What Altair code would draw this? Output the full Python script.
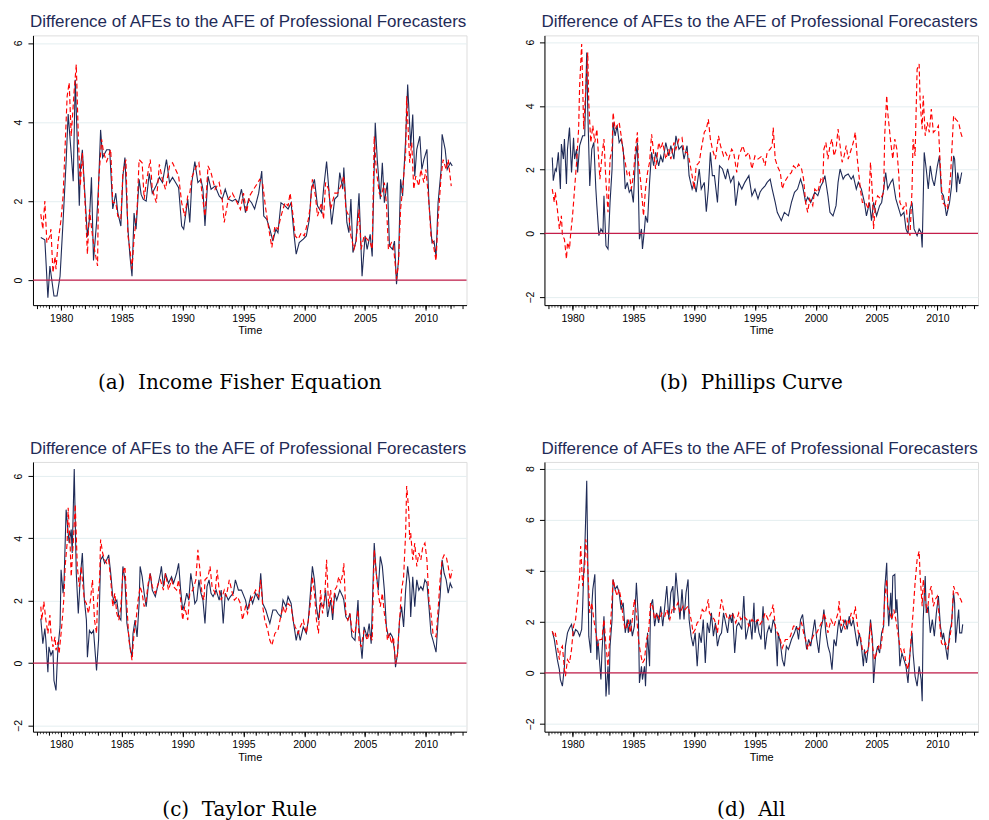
import altair as alt
import pandas as pd

NAVY = "#1f2b57"
RED = "#ff0000"
ZERO = "#c41e4a"
GRID = "#e4eef0"

TITLE = "Difference of AFEs to the AFE of Professional Forecasters"
CAPTIONS = ["(a)\u00a0 Income Fisher Equation", "(b)\u00a0 Phillips Curve",
            "(c)\u00a0 Taylor Rule", "(d)\u00a0 All"]
MAJOR_YEARS = [1980, 1985, 1990, 1995, 2000, 2005, 2010]
YEAR_TICKS = list(range(1978, 2014))
QUARTER_TICKS = [1978 + q / 4 for q in range(1, 138)]
X_DOMAIN = [1977.69, 2013.34]

# months since Jan 1978
A_NAVY_M = [4,8,11,13,17,20,23,26,29,31,34,36,38,40,42,43,45,48,50,52,54,56,59,61,63,65,69,72,75,78,80,83,85,87,90,92,94,96,98,101,103,105,108,111,114,118,121,124,128,131,134,137,140,143,145,149,151,153,156,159,162,164,166,169,172,176,180,183,186,189,193,196,199,202,206,209,212,215,219,222,224,227,230,233,236,238,241,245,248,251,254,256,259,263,266,269,271,274,277,281,283,286,289,291,294,297,299,302,303,306,308,310,312,315,318,321,324,326,329,331,334,336,339,341,343,346,348,351,353,355,357,359,361,364,366,369,371,373,375,378,380,382,385,387,390,392,394,396,399,400,403,405,408,410]
A_NAVY_V = [1.08,1.02,-0.44,0.36,-0.4,-0.4,0.1,1.5,3.0,4.2,3.2,2.5,5.07,3.5,1.88,2.8,3.3,1.96,1.1,1.55,2.6,0.5,1.45,2.4,3.8,3.1,3.3,3.3,1.8,2.2,1.7,1.37,2.63,3.1,1.29,0.6,0.1,1.7,1.29,2.55,2.17,2.05,2.0,2.7,2.2,2.4,2.6,2.47,3.05,2.47,2.6,2.47,2.34,1.37,1.29,2.05,1.46,2.47,3.0,2.47,2.55,2.3,1.37,2.63,2.3,2.38,2.13,2.05,2.3,2.05,2.0,2.05,1.96,2.3,1.71,2.05,1.96,1.8,2.2,2.76,1.62,1.54,1.29,0.99,1.29,1.2,1.96,1.88,1.8,1.96,1.12,0.66,0.95,1.04,1.12,1.54,2.3,2.55,1.88,1.71,2.3,3.0,2.05,1.41,2.05,2.13,2.72,2.3,2.85,1.46,1.2,2.05,0.7,0.99,2.2,0.1,1.12,0.78,1.16,0.6,3.98,3.05,2.05,2.97,1.96,2.47,0.87,0.78,0.99,-0.1,0.53,2.55,2.13,3.56,4.95,3.39,4.19,2.63,3.31,3.64,2.8,3.05,3.31,1.96,0.95,0.99,0.6,1.96,2.8,3.69,3.31,2.8,2.97,2.89]
A_RED_M = [4,6,8,10,13,14,16,18,19,21,24,26,28,30,32,34,37,39,41,43,45,48,50,52,55,57,60,61,64,66,69,73,75,78,80,83,85,88,90,92,94,96,99,101,104,106,108,112,114,118,121,124,127,131,134,137,140,143,146,149,151,153,157,160,163,166,169,172,176,180,183,185,189,193,196,201,204,207,210,214,217,220,223,226,229,232,235,238,241,245,248,250,253,255,258,261,264,268,270,272,275,277,281,283,285,288,290,294,297,300,303,305,308,310,313,315,318,320,323,326,329,331,333,335,338,340,343,345,347,350,352,355,357,359,361,364,365,368,370,372,374,377,379,382,384,387,389,391,394,396,399,401,404,406,409]
A_RED_V = [1.67,1.29,2.0,0.95,1.12,1.29,0.19,0.6,0.28,0.95,1.54,2.13,3.39,4.65,5.0,3.64,4.82,5.45,3.64,2.38,3.22,1.79,0.66,1.79,1.12,0.78,0.36,2.47,3.56,3.22,3.0,3.3,1.96,1.96,1.62,1.54,2.72,3.05,1.12,0.78,0.28,1.04,1.79,3.05,2.97,2.05,2.47,3.05,2.3,1.96,2.93,2.55,2.3,2.89,2.97,2.8,2.63,1.96,1.62,2.13,2.2,2.6,2.85,2.97,2.2,1.62,2.89,2.72,2.3,2.47,2.05,1.46,2.05,2.2,2.05,1.79,2.2,1.71,2.13,2.3,2.42,2.55,2.42,1.79,1.29,0.83,1.37,1.29,1.62,1.96,1.88,2.2,1.62,1.12,1.04,1.2,1.12,1.54,1.88,2.55,2.13,1.62,1.96,1.54,2.47,2.3,1.79,2.2,2.2,2.38,2.63,1.79,1.62,1.12,0.78,0.95,1.79,0.78,1.12,1.04,0.95,0.78,3.64,2.8,2.2,2.13,2.47,1.96,0.78,0.95,0.87,0.03,0.45,1.79,2.3,3.22,4.65,2.97,3.48,2.3,2.63,2.38,2.8,2.47,2.8,1.96,1.12,0.95,0.49,1.54,2.63,3.05,2.8,3.05,2.38]

B_NAVY_M = [4,5,7,8,10,12,13,15,16,18,19,21,23,25,26,28,29,31,33,34,36,38,39,41,43,45,47,48,50,52,54,55,57,59,61,63,64,66,68,70,72,74,76,78,80,82,84,86,88,90,92,93,95,96,98,100,102,104,106,109,111,113,116,119,121,124,126,129,132,134,137,139,142,144,146,149,151,154,156,158,160,162,164,167,169,172,175,177,180,183,185,188,191,194,198,201,204,207,209,211,214,216,219,221,224,226,230,233,237,240,243,246,249,251,254,256,259,263,266,269,271,273,276,278,281,284,286,288,291,293,296,299,301,304,306,309,312,314,317,319,321,324,327,329,331,333,335,338,340,343,346,348,351,353,355,357,359,361,364,366,368,369,371,373,375,377,379,381,384,386,388,390,393,396,398,400,401,403,404,406,408]
B_NAVY_V = [2.38,1.65,2.02,1.96,2.54,1.39,2.8,2.33,2.96,1.55,2.64,3.32,1.91,3.0,2.33,2.64,1.91,2.75,2.96,3.06,3.06,5.67,3.9,1.49,2.64,2.85,1.39,0.87,-0.07,0.14,0.03,1.18,-0.39,-0.49,0.97,2.02,3.48,3.06,3.38,2.85,2.96,2.64,1.39,1.6,1.29,1.39,0.97,2.33,2.85,-0.18,0.14,-0.49,0.14,0.55,0.34,1.6,2.54,2.12,2.54,2.12,2.43,2.23,2.85,2.43,2.75,2.33,3.06,2.64,2.75,2.33,2.75,1.81,1.39,1.6,1.29,2.02,1.39,1.6,0.68,1.39,2.54,1.81,1.81,0.97,2.12,2.02,1.7,2.02,1.6,1.81,0.87,1.6,1.39,1.6,1.81,1.18,1.39,1.08,1.29,1.39,1.49,1.6,1.7,1.39,0.97,0.66,0.4,0.66,0.55,0.97,1.29,1.39,1.7,1.49,0.97,1.13,0.97,1.29,1.18,1.49,1.6,1.81,1.18,0.66,0.55,0.87,1.6,2.02,1.7,1.81,1.86,1.7,1.81,1.39,1.6,1.39,0.97,0.55,0.97,0.4,0.97,0.55,0.87,0.97,1.39,1.91,1.39,1.6,1.7,1.08,0.76,0.55,0.66,0.14,-0.02,0.76,0.97,0.14,-0.07,0.14,0.03,-0.44,2.54,2.02,1.39,2.12,1.7,1.49,2.12,2.43,1.29,1.18,0.55,0.97,1.49,2.43,2.33,1.29,1.91,1.55,1.91]
B_RED_M = [4,6,7,9,11,13,14,16,18,19,21,22,24,26,28,30,31,33,34,35,37,39,40,42,44,46,48,49,51,53,55,57,59,61,63,64,66,68,70,72,74,76,78,80,82,84,86,88,89,91,93,94,96,98,100,102,104,106,109,111,113,116,119,121,124,126,129,132,134,137,139,142,144,146,149,151,154,156,158,160,162,165,168,170,173,175,178,181,183,186,188,192,195,198,201,204,207,211,214,216,219,221,222,224,226,229,231,233,237,240,242,245,247,250,252,254,256,258,261,263,266,269,271,272,274,276,278,280,282,284,286,288,290,292,294,296,299,301,303,305,308,310,313,316,318,320,321,323,325,328,331,332,334,335,338,340,342,344,346,347,350,353,355,357,359,360,362,364,366,367,369,370,372,374,376,378,380,383,385,387,389,392,394,397,400,402,405,407,409]
B_RED_V = [1.39,0.97,1.29,0.76,0.14,0.55,-0.07,-0.18,-0.8,-0.28,-0.49,-0.07,0.55,1.39,2.23,3.27,4.63,5.94,4.63,3.27,4.52,5.67,4.1,2.85,3.38,2.85,3.27,2.75,1.7,2.43,2.96,1.6,0.66,2.33,2.64,3.79,3.27,3.38,3.48,3.06,2.54,2.23,1.81,1.91,1.39,1.81,2.64,3.17,2.23,1.7,0.97,0.55,1.39,1.91,2.23,3.11,2.54,2.02,2.85,2.64,2.85,2.33,2.64,2.33,2.85,2.64,2.96,3.01,2.54,2.54,2.33,1.81,1.39,2.12,2.23,2.64,3.17,3.27,3.58,2.96,2.64,2.33,3.06,2.75,2.43,2.54,2.33,2.64,2.54,1.91,2.43,2.75,2.43,2.54,2.02,2.43,2.33,2.43,2.12,2.54,2.64,2.75,3.32,2.33,2.12,1.91,1.39,1.6,1.81,1.91,2.12,2.02,2.17,2.02,1.7,0.97,0.66,1.08,0.87,1.39,1.29,1.7,1.6,2.64,2.85,2.33,2.75,2.96,2.43,2.64,3.27,2.75,2.23,2.43,2.75,2.33,2.64,2.85,3.17,2.33,1.39,0.97,0.97,0.76,2.23,1.18,0.14,0.97,1.18,1.08,1.29,3.06,4.32,3.79,2.85,2.33,2.96,2.64,1.81,0.97,0.76,0.97,0.14,-0.07,1.39,2.96,2.43,5.15,5.31,4.1,3.27,4.32,3.06,3.48,3.17,3.9,3.17,3.27,3.38,2.02,0.97,0.87,0.76,1.81,3.69,3.58,3.48,3.17,2.96]

C_NAVY_M = [4,6,8,9,11,12,14,16,17,19,20,21,23,24,26,27,29,31,32,34,35,37,39,41,43,45,47,49,50,52,54,56,58,59,61,62,63,65,67,69,71,73,75,77,79,81,83,85,87,89,91,92,94,95,97,99,101,102,104,106,108,110,112,114,117,120,122,123,125,127,130,133,135,138,140,142,144,146,148,150,152,154,156,158,160,162,164,166,168,170,172,174,177,180,182,184,186,189,191,194,196,199,202,206,208,211,213,216,219,221,223,226,228,230,233,236,238,241,243,246,248,251,253,256,258,260,263,266,268,270,272,274,276,278,280,283,285,287,290,292,294,296,299,302,303,305,307,309,311,314,317,318,321,323,326,328,330,332,333,335,337,339,341,343,345,347,349,351,353,354,356,358,360,362,364,366,368,369,371,373,375,377,379,381,383,385,387,389,391,394,396,398,400,402,404,406,408,410]
C_NAVY_V = [1.43,0.62,1.11,0.73,-0.29,0.52,0.25,0.41,-0.56,-0.88,-0.13,0.52,1.16,2.99,2.24,2.67,4.92,4.17,3.85,4.28,3.53,6.22,2.88,1.59,2.77,3.53,2.02,1.38,0.19,1.05,0.95,1.05,0.19,-0.24,0.73,2.02,3.31,3.42,3.2,3.31,3.47,2.88,2.13,1.91,2.02,1.48,1.38,3.1,2.67,1.27,0.84,0.52,0.19,0.95,1.38,0.84,1.91,3.1,2.77,2.24,1.81,2.45,2.88,2.34,2.13,2.56,2.88,3.1,2.45,2.88,2.56,2.77,2.56,2.88,3.2,2.34,1.7,1.91,2.24,2.02,2.88,2.45,1.91,2.02,2.67,2.24,2.02,1.27,2.45,2.67,2.24,2.13,2.34,2.02,2.34,1.27,2.24,2.02,2.13,2.24,2.67,2.34,2.34,2.02,1.7,2.13,1.91,2.24,2.02,2.88,1.91,1.7,1.48,1.27,1.7,1.7,1.59,1.48,2.02,1.81,2.13,1.91,1.38,0.73,1.05,0.73,1.16,0.95,1.38,2.24,3.1,2.67,1.81,1.38,1.91,1.81,2.34,1.48,2.02,1.38,2.24,2.02,2.34,2.13,2.02,1.48,1.38,1.59,0.84,0.73,2.02,1.16,0.14,1.16,0.84,1.27,0.62,2.77,3.85,2.88,2.34,3.42,3.1,2.34,1.16,0.84,0.95,0.84,0.41,-0.13,0.3,1.38,1.81,1.16,2.34,3.1,2.56,1.48,2.77,1.81,2.67,2.34,2.45,2.34,2.67,2.56,1.81,0.95,0.73,0.35,1.38,2.13,3.31,2.88,2.67,2.24,2.56,2.4]
C_RED_M = [4,5,7,9,11,13,14,16,18,19,21,22,24,26,27,28,30,31,33,34,36,38,40,42,44,45,47,49,51,53,55,57,59,60,62,63,65,67,69,71,73,75,77,79,81,83,85,87,89,91,93,94,96,98,100,102,104,106,108,110,112,114,117,120,122,125,127,130,133,135,138,140,142,144,146,149,151,154,157,159,161,163,165,166,169,171,173,176,178,180,182,185,187,190,193,195,198,201,203,206,208,211,213,216,219,221,223,225,228,230,232,235,238,240,243,245,248,251,253,255,258,260,263,266,268,270,272,274,276,278,280,282,284,286,288,290,292,294,296,298,300,302,303,305,307,309,311,314,317,318,320,323,326,328,331,333,335,337,339,341,343,345,346,348,350,352,354,356,358,360,362,364,365,367,368,369,371,373,375,377,379,381,383,385,387,389,391,394,396,398,400,402,404,406,408,410]
C_RED_V = [1.81,1.38,1.97,1.38,0.95,1.54,0.95,0.52,0.84,0.41,0.68,0.3,0.95,1.7,2.24,3.1,3.85,4.98,3.74,2.77,3.85,5.09,3.1,2.45,3.1,2.67,2.02,1.91,1.59,2.02,2.67,1.38,0.95,2.02,2.67,3.96,3.53,3.31,3.2,3.31,2.67,1.81,2.24,1.59,1.38,1.81,2.88,3.1,1.81,0.73,0.3,0.09,0.95,1.38,2.02,2.45,2.24,1.81,2.02,2.56,2.88,2.45,2.24,2.56,2.67,2.34,2.88,2.34,2.67,2.45,2.34,2.67,2.02,1.38,1.81,1.38,2.24,2.34,2.67,3.63,2.99,2.24,2.02,2.67,2.77,3.1,2.45,2.24,2.99,2.34,2.02,2.34,2.13,2.67,2.24,2.02,2.13,1.91,1.38,1.81,1.59,2.02,2.13,2.34,2.13,2.67,1.81,1.38,1.05,0.73,0.57,0.95,1.05,1.38,1.81,1.59,1.91,1.81,1.38,1.16,0.95,1.16,1.38,0.95,1.38,1.91,2.77,2.24,1.38,0.95,2.34,1.59,2.02,3.31,1.81,2.34,1.59,2.34,2.45,2.77,2.56,2.88,3.2,1.59,1.38,1.59,1.05,0.95,1.7,0.73,0.52,1.05,0.73,0.95,0.73,3.63,2.88,2.24,1.81,2.24,1.59,1.16,0.73,0.95,0.62,0.84,-0.02,0.3,1.38,2.34,2.77,4.17,5.68,4.92,3.96,4.17,3.31,3.85,3.1,3.53,3.31,3.74,3.85,3.31,2.02,1.59,0.95,0.84,1.7,2.67,3.31,3.47,3.42,3.1,2.67,2.99]

D_NAVY_M = [4,6,7,9,11,12,14,16,17,19,21,23,25,27,29,31,33,34,35,36,38,39,40,42,43,44,46,47,48,49,51,52,53,55,56,57,59,60,61,63,64,66,68,70,72,74,76,78,79,81,83,85,87,89,90,92,93,95,96,98,100,101,103,105,107,109,111,113,115,117,119,121,123,124,126,128,130,132,134,136,138,139,141,143,145,147,149,151,153,155,157,159,161,163,165,167,169,171,173,175,177,179,181,182,184,186,188,191,193,195,197,199,201,203,204,206,208,210,212,214,216,218,220,222,224,226,227,229,231,233,235,237,240,243,245,247,249,251,253,255,257,259,261,263,265,267,269,271,272,274,276,278,280,282,284,286,287,289,291,293,295,297,299,301,303,305,307,309,311,312,314,316,318,320,321,323,325,327,329,331,332,334,335,336,338,339,340,342,343,344,346,347,349,351,353,355,357,359,360,362,364,366,368,369,370,372,373,375,377,379,381,383,385,387,389,390,392,394,396,398,400,401,402,404,405,406,408,409]
D_NAVY_V = [1.63,1.31,1.05,0.52,0.13,-0.26,-0.52,0.26,1.05,1.57,1.76,1.9,1.44,1.7,1.63,1.44,1.7,2.61,3.92,4.71,7.52,4.44,1.44,0.78,2.61,3.27,3.86,2.09,0.52,1.31,0.26,-0.26,0.78,2.22,0.78,-0.92,0.26,-0.85,1.05,2.09,3.66,3.27,3.4,3.14,2.48,2.75,1.57,2.09,1.57,2.09,1.44,1.83,3.53,2.09,-0.39,0.26,-0.26,0.26,-0.52,1.57,0.26,2.61,2.88,1.83,2.35,1.96,2.61,1.83,2.61,3.4,2.09,3.14,3.4,2.35,3.92,3.01,2.09,3.27,2.09,3.14,3.66,2.09,1.44,1.05,1.57,0.26,1.57,1.18,2.09,0.39,1.96,1.57,2.35,1.44,1.96,1.05,1.44,1.57,2.35,1.96,1.57,2.29,1.96,2.35,0.78,1.83,1.96,1.7,3.01,1.31,1.7,2.09,1.31,2.75,1.57,2.09,1.57,1.31,2.61,0.92,1.57,1.83,1.57,2.09,1.83,0.26,1.57,1.18,0.52,0.26,1.05,0.92,1.31,1.57,1.83,1.31,2.09,2.29,1.57,0.92,1.31,1.05,1.57,2.09,1.31,0.78,1.7,2.09,2.48,1.57,1.05,0.78,0.13,1.31,1.05,1.83,2.09,1.57,1.83,2.09,1.7,2.22,1.83,2.09,1.57,1.05,1.57,1.05,0.26,0.92,0.39,1.05,2.09,1.31,-0.39,0.65,1.05,0.78,1.57,1.83,3.27,4.31,2.61,1.83,3.14,2.09,3.79,3.86,2.35,2.88,1.31,0.26,0.78,0.52,0.26,-0.39,0.78,1.57,0.78,-0.13,-0.52,0.26,-0.26,-1.11,2.09,3.79,2.35,2.61,1.57,2.09,1.44,2.35,3.01,1.83,1.31,1.57,1.05,0.52,1.57,1.96,3.14,2.75,1.18,2.09,2.48,1.57,1.57,1.9]
D_RED_M = [4,6,7,9,11,12,14,16,17,19,21,23,25,27,29,31,32,33,34,36,37,38,40,41,43,45,47,49,51,53,55,57,59,61,63,64,66,68,70,72,74,76,78,79,81,83,85,87,89,91,93,95,97,99,101,103,105,107,110,112,115,117,120,123,125,128,130,133,135,138,141,143,145,147,150,152,155,158,159,161,164,167,169,171,173,175,177,180,182,185,188,190,193,196,198,201,204,207,209,212,214,217,220,222,224,226,229,231,234,237,239,242,244,247,250,252,254,256,257,260,263,265,268,271,272,274,276,279,282,284,286,287,289,291,293,295,297,299,301,303,304,306,308,310,313,316,318,320,322,324,326,328,330,331,332,334,335,337,339,341,343,345,347,349,351,353,355,357,359,360,362,364,366,367,369,370,372,374,376,378,380,382,384,386,388,390,392,394,396,398,400,402,404,405,407,409]
D_RED_V = [1.63,1.44,1.57,1.05,0.52,0.92,1.05,0.13,-0.13,0.52,0.39,0.92,1.83,2.09,2.88,3.79,4.97,4.18,3.4,4.18,5.23,4.97,3.27,2.35,2.75,2.09,1.57,1.05,1.31,1.31,2.09,1.05,0.26,1.57,2.88,3.66,3.27,3.01,3.27,2.88,2.09,1.7,1.83,2.09,1.57,2.09,2.88,2.35,1.31,0.78,0.39,0.52,1.31,1.57,2.75,2.61,2.09,2.35,2.09,2.35,2.22,2.48,2.09,2.61,2.48,2.75,2.35,2.61,2.48,2.61,2.09,1.57,1.7,1.96,2.09,2.48,2.35,2.88,2.35,2.22,2.09,1.57,2.35,2.88,2.48,2.35,2.09,2.22,2.35,1.96,2.35,2.09,2.22,2.09,1.83,2.09,1.96,2.09,1.9,2.09,2.35,2.09,2.35,2.68,1.83,1.57,1.31,0.98,1.31,1.31,1.44,1.83,1.83,1.7,1.96,1.57,1.31,0.92,1.05,1.31,1.57,1.57,1.83,2.09,2.35,2.09,1.57,2.09,1.83,2.09,2.35,2.81,1.83,2.09,1.7,2.09,1.96,2.35,2.09,2.61,2.22,1.57,1.44,0.92,0.78,0.92,1.96,1.05,0.52,0.78,1.05,0.92,1.57,2.09,2.88,3.66,2.61,2.35,2.09,2.48,2.09,1.57,1.05,0.78,0.92,0.39,0.13,0.78,1.83,2.35,3.53,4.44,4.77,3.79,2.61,3.66,2.88,2.35,3.14,3.4,2.61,2.88,3.01,2.09,1.18,1.05,1.18,0.92,1.31,1.83,3.4,3.14,3.14,3.01,2.88,2.68]

Y_DOMAINS = [[-0.63, 6.19], [-2.25, 6.21], [-2.2, 6.45], [-2.3, 8.26]]
Y_TICKS = [[0, 2, 4, 6], [-2, 0, 2, 4, 6], [-2, 0, 2, 4, 6], [-2, 0, 2, 4, 6, 8]]

FONT = "Liberation Sans"


def frame(months, values):
    return pd.DataFrame({"t": [1978 + m / 12 for m in months], "v": values})


def panel(navy_m, navy_v, red_m, red_v, ydom, yticks, caption):
    xs = alt.Scale(domain=X_DOMAIN, nice=False, zero=False)
    ys = alt.Scale(domain=ydom, nice=False, zero=False)
    yaxis = alt.Axis(values=yticks, title=None, labelAngle=270, labelAlign="center",
                     labelBaseline="bottom", labelPadding=4, labelFontSize=10.5,
                     labelFont=FONT, labelColor="black", tickSize=5, tickColor="black",
                     domainColor="black", grid=True, gridColor=GRID, gridWidth=1)
    major = alt.Axis(values=MAJOR_YEARS, format="d", orient="bottom", title="Time",
                     titleFont=FONT, titleFontSize=11, titleFontWeight="normal",
                     titleColor="black", titlePadding=1, labelFont=FONT,
                     labelFontSize=10.5, labelColor="black", labelPadding=3,
                     tickSize=5, tickColor="black", domainColor="black", grid=False,
                     labelFlush=False)
    yearly = alt.Axis(values=YEAR_TICKS, orient="bottom", title=None, labels=False,
                      tickSize=3.5, tickColor="black", domain=False, grid=False)
    quarterly = alt.Axis(values=QUARTER_TICKS, orient="bottom", title=None, labels=False,
                         tickSize=2, tickColor="#555555", domain=False, grid=False)

    ticks_layer = alt.Chart(frame(navy_m, navy_v)).mark_line(opacity=0).encode(
        x=alt.X("t:Q", scale=xs, axis=quarterly), y=alt.Y("v:Q", scale=ys, axis=yaxis))
    navy = alt.Chart(frame(navy_m, navy_v)).mark_line(color=NAVY, strokeWidth=1.1).encode(
        x=alt.X("t:Q", scale=xs, axis=major), y=alt.Y("v:Q", scale=ys, axis=yaxis))
    red = alt.Chart(frame(red_m, red_v)).mark_line(
        color=RED, strokeWidth=1.15, strokeDash=[5, 3]).encode(
        x=alt.X("t:Q", scale=xs, axis=yearly), y=alt.Y("v:Q", scale=ys, axis=yaxis))
    zero = alt.Chart(pd.DataFrame({"v": [0]})).mark_rule(color=ZERO, strokeWidth=1.2).encode(
        y=alt.Y("v:Q", scale=ys, axis=yaxis))
    cap = alt.Chart(pd.DataFrame({"c": [caption]})).mark_text(
        font="DejaVu Serif", fontSize=20, color="black", align="center",
        baseline="alphabetic").encode(text="c:N", x=alt.value(207), y=alt.value(354))

    return alt.layer(ticks_layer, navy, red, zero, cap).resolve_axis(x="independent").properties(
        width=434, height=270,
        title=alt.Title(TITLE, anchor="start", frame="group", fontSize=17, font=FONT,
                        fontWeight="normal", color=NAVY, offset=4, dx=-3))


series = [
    (A_NAVY_M, A_NAVY_V, A_RED_M, A_RED_V),
    (B_NAVY_M, B_NAVY_V, B_RED_M, B_RED_V),
    (C_NAVY_M, C_NAVY_V, C_RED_M, C_RED_V),
    (D_NAVY_M, D_NAVY_V, D_RED_M, D_RED_V),
]
panels = [panel(*s, Y_DOMAINS[i], Y_TICKS[i], CAPTIONS[i]) for i, s in enumerate(series)]

chart = alt.concat(*panels, columns=2, spacing={"row": 157, "column": 78},
                   bounds="flush").properties(
    padding={"left": 5, "top": 4, "right": 0, "bottom": 0}
).configure_view(strokeOpacity=0).configure(background="white")

chart.save("out.html", embed_options={"renderer": "svg", "actions": False})
